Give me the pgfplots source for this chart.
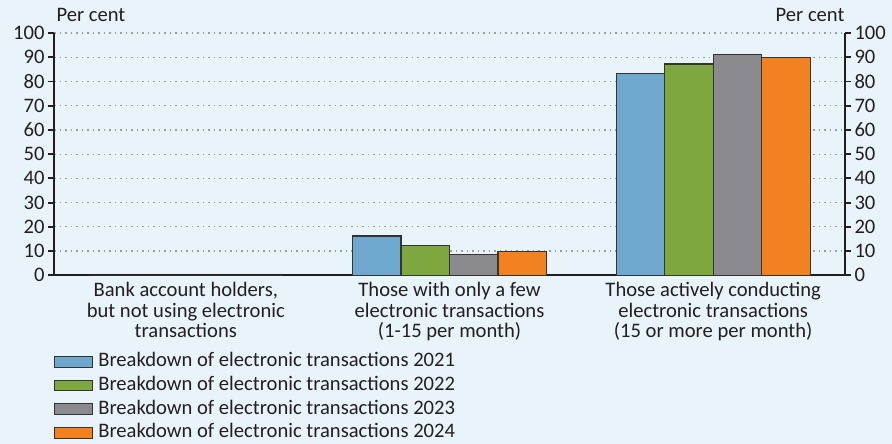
\documentclass[border=0pt]{standalone}
\usepackage{fontspec}
\setmainfont{Carlito}
\usepackage{pgfplots}
\pgfplotsset{compat=1.18}
\definecolor{bg}{HTML}{E9F3FA}
\definecolor{cblue}{HTML}{6FA8CF}
\definecolor{cgreen}{HTML}{7EA83D}
\definecolor{cgray}{HTML}{8B8B8F}
\definecolor{corange}{HTML}{F28220}
\definecolor{edge}{HTML}{333333}
\definecolor{axc}{HTML}{231F20}
\definecolor{gridc}{HTML}{9A9EA2}
\newcommand{\fs}{\fontsize{20.6bp}{20.5bp}\selectfont}
\begin{document}
\begin{tikzpicture}[x=1bp,y=1bp]
\fill[bg] (0bp,0bp) rectangle (892bp,444bp);
\useasboundingbox (0bp,0bp) rectangle (892bp,444bp);
\begin{axis}[
  at={(54bp,168.7bp)}, anchor=south west,
  scale only axis, width=791bp, height=242.3bp,
  xmin=-0.5, xmax=2.5, ymin=0, ymax=100,
  axis x line*=bottom, axis y line*=left,
  axis line style={axc, line width=2bp},
  ybar=0pt, bar width=48.5bp,
  xtick={0,1,2},
  xticklabels={{Bank account holders,\\but not using electronic\\transactions},
               {Those with only a few\\electronic transactions\\(1-15 per month)},
               {Those actively conducting\\electronic transactions\\(15 or more per month)}},
  major x tick style={draw=none},
  extra x ticks={0.5,1.5}, extra x tick labels={},
  extra x tick style={major tick style={draw=axc, line width=1.5bp}, major tick length=6bp, tick align=outside, grid=none},
  xticklabel style={align=center, font=\fs, text=axc, inner sep=1bp},
  ytick={0,10,...,100},
  ytick style={draw=axc, line width=1.8bp},
  major tick length=6bp, tick align=outside,
  yticklabel style={font=\fs, text=axc},
  /pgf/number format/assume math mode=true,
  ymajorgrids, grid style={gridc, line width=1.2bp, dash pattern=on 1.5bp off 4bp},
  legend image code/.code={\draw[#1] (0bp,-5.3bp) rectangle (38bp,5.3bp);},
  legend style={at={(rel axis cs:0,-0.319)}, anchor=north west, draw=none, fill=none,
     font=\fs, text=axc, row sep=5.7bp, inner sep=0pt,
     nodes={inner sep=0pt, text height=14bp, text depth=4bp},
     /tikz/every odd column/.append style={column sep=5bp}},
  legend cell align=left,
  every axis plot/.append style={draw=edge, line width=1.1bp},
]
\addplot[fill=cblue]   coordinates {(0,0) (1,16.2) (2,83.3)};
\addplot[fill=cgreen]  coordinates {(0,0) (1,12.4) (2,87.2)};
\addplot[fill=cgray]   coordinates {(0,0) (1,8.7) (2,91.1)};
\addplot[fill=corange] coordinates {(0,0) (1,10.0) (2,89.8)};
\addlegendentry{Breakdown of electronic transactions 2021}
\addlegendentry{Breakdown of electronic transactions 2022}
\addlegendentry{Breakdown of electronic transactions 2023}
\addlegendentry{Breakdown of electronic transactions 2024}
\end{axis}
\begin{axis}[
  at={(54bp,168.7bp)}, anchor=south west,
  scale only axis, width=791bp, height=242.3bp,
  xmin=-0.5, xmax=2.5, ymin=0, ymax=100,
  axis x line=none, axis y line*=right,
  axis line style={axc, line width=2bp},
  ytick={0,10,...,100},
  ytick style={draw=axc, line width=1.8bp},
  major tick length=6bp, tick align=outside,
  yticklabel style={font=\fs, text=axc},
  /pgf/number format/assume math mode=true,
]
\addplot[draw=none] coordinates {(0,0)};
\end{axis}
\node[anchor=west, font=\fs, text=axc] at (53bp,429bp) {Per cent};
\node[anchor=east, font=\fs, text=axc] at (848bp,429bp) {Per cent};
\end{tikzpicture}
\end{document}
